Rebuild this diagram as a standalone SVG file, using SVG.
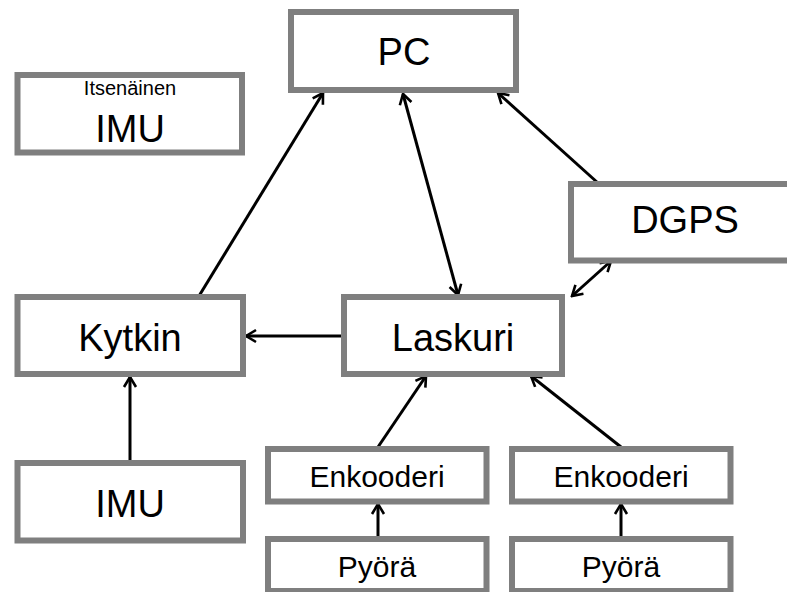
<svg xmlns="http://www.w3.org/2000/svg" width="787" height="592" viewBox="0 0 787 592">
<style>
.box{fill:#ffffff;stroke:#7f7f7f;stroke-width:6}
.t{font-family:"Liberation Sans",Arial,sans-serif;fill:#000;text-anchor:middle}
.big{font-size:38px}
.mid{font-size:30px}
.sm{font-size:20px}
.c{stroke:#000;stroke-width:3;fill:none}
</style>
<defs>
<marker id="ah" viewBox="0 0 14 16" refX="12" refY="8" markerWidth="14" markerHeight="16" markerUnits="userSpaceOnUse" orient="auto-start-reverse">
<path d="M2,2 L12,8 L2,14" fill="none" stroke="#000" stroke-width="2.6"/>
</marker>
</defs>
<rect width="787" height="592" fill="#ffffff"/>
<g id="connectors">
<line class="c" x1="199" y1="296" x2="323" y2="93" marker-end="url(#ah)"/>
<line class="c" x1="403" y1="94" x2="458" y2="295" marker-start="url(#ah)" marker-end="url(#ah)"/>
<line class="c" x1="598" y1="183" x2="498" y2="93" marker-end="url(#ah)"/>
<line class="c" x1="611" y1="261" x2="572" y2="296" marker-start="url(#ah)" marker-end="url(#ah)"/>
<line class="c" x1="344" y1="336" x2="246" y2="336" marker-end="url(#ah)"/>
<line class="c" x1="130" y1="463" x2="130" y2="377" marker-end="url(#ah)"/>
<line class="c" x1="378" y1="447" x2="426" y2="376" marker-end="url(#ah)"/>
<line class="c" x1="621" y1="447" x2="531" y2="376" marker-end="url(#ah)"/>
<line class="c" x1="378" y1="539" x2="378" y2="504" marker-end="url(#ah)"/>
<line class="c" x1="621" y1="539" x2="621" y2="504" marker-end="url(#ah)"/>
</g>
<g id="pc">
<rect class="box" x="291" y="12" width="225" height="78"/>
<text class="t big" x="404" y="65">PC</text>
</g>
<g id="itsenainen-imu">
<rect class="box" x="17.5" y="75" width="224.5" height="77.5"/>
<text class="t sm" x="130" y="95">Itsenäinen</text>
<text class="t big" x="130" y="142">IMU</text>
</g>
<g id="dgps">
<rect class="box" x="571" y="184" width="228" height="76.5"/>
<text class="t big" x="685" y="233">DGPS</text>
</g>
<g id="kytkin">
<rect class="box" x="17.5" y="297" width="225.5" height="77"/>
<text class="t big" x="130" y="351">Kytkin</text>
</g>
<g id="laskuri">
<rect class="box" x="344" y="297" width="218" height="77"/>
<text class="t big" x="453" y="351">Laskuri</text>
</g>
<g id="imu">
<rect class="box" x="17.5" y="463" width="225.5" height="77.5"/>
<text class="t big" x="130" y="517">IMU</text>
</g>
<g id="enkooderi-1">
<rect class="box" x="268" y="449" width="218.5" height="52.5"/>
<text class="t mid" x="377" y="487">Enkooderi</text>
</g>
<g id="enkooderi-2">
<rect class="box" x="512" y="449" width="218.5" height="52.5"/>
<text class="t mid" x="621" y="487">Enkooderi</text>
</g>
<g id="pyora-1">
<rect class="box" x="268" y="539" width="218.5" height="52"/>
<text class="t mid" x="377" y="577">Pyörä</text>
</g>
<g id="pyora-2">
<rect class="box" x="512" y="539" width="218.5" height="52"/>
<text class="t mid" x="621" y="577">Pyörä</text>
</g>
</svg>
